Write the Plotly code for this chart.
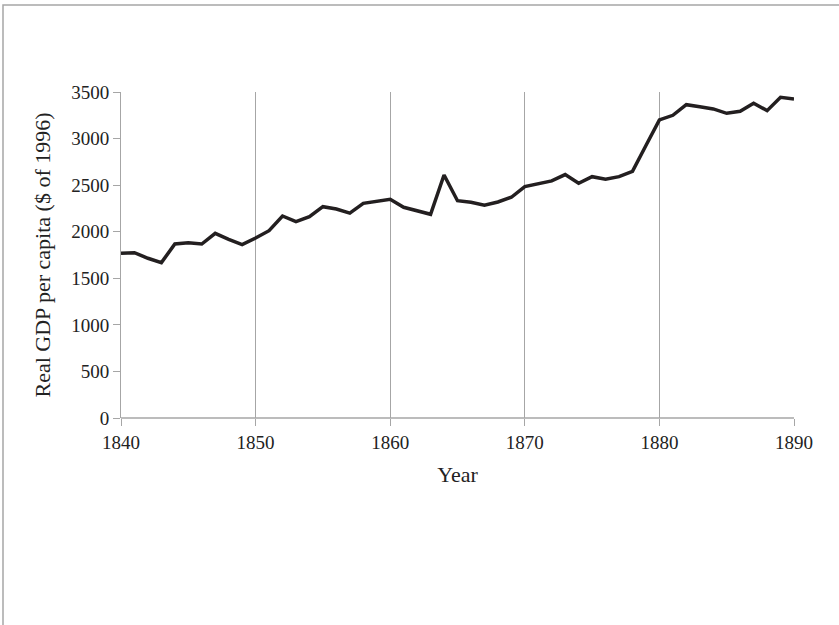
import plotly.graph_objects as go

years = list(range(1840, 1891))
gdp = [1768, 1775, 1715, 1668, 1868, 1882, 1868, 1983, 1918, 1861,
       1933, 2011, 2169, 2108, 2162, 2269, 2244, 2200, 2305, 2326,
       2348, 2262, 2226, 2187, 2609, 2333, 2316, 2284, 2319, 2370,
       2484, 2512, 2545, 2613, 2520, 2591, 2563, 2591, 2648, 2925,
       3200, 3250, 3364, 3342, 3318, 3271, 3293, 3379, 3300, 3443,
       3425]
x_ticks = [1840, 1850, 1860, 1870, 1880, 1890]
y_ticks = [0, 500, 1000, 1500, 2000, 2500, 3000, 3500]

FONT = "Liberation Serif"
W, H = 839, 625
L, R, T, B = 121, 45, 92, 207
pw, ph = W - L - R, H - T - B

fig = go.Figure()
fig.add_trace(go.Scatter(x=years, y=gdp, mode="lines",
                         line=dict(color="#231F20", width=3.5),
                         showlegend=False))

fig.update_layout(
    width=W, height=H,
    margin=dict(l=L, r=R, t=T, b=B),
    paper_bgcolor="white", plot_bgcolor="white",
    font=dict(family=FONT, size=19, color="#222222"),
    xaxis=dict(range=[1840, 1890], tickvals=x_ticks, showgrid=True,
               gridcolor="#A6A6A6", gridwidth=1, showline=False,
               zeroline=False, ticks="outside", ticklen=7, tickcolor="#A6A6A6",
               title=dict(text="Year", standoff=14, font=dict(size=22))),
    yaxis=dict(range=[0, 3500], tickvals=y_ticks, showgrid=False,
               showline=True, linecolor="#A6A6A6", linewidth=1,
               zeroline=False, ticks="outside", ticklen=7, tickcolor="#A6A6A6",
               title=dict(text="Real GDP per capita ($ of 1996)", standoff=14,
                          font=dict(size=22))),
)

# x-axis baseline at 0
fig.add_shape(type="line", xref="paper", yref="paper", x0=0, x1=1, y0=0, y1=0,
              line=dict(color="#A6A6A6", width=1.5))
# outer border (only left and top visible in the crop)
fig.add_shape(type="rect", xref="paper", yref="paper",
              x0=(3 - L) / pw, x1=(W + 20 - L) / pw,
              y0=-(B + 20) / ph, y1=(H - B - 5) / ph,
              line=dict(color="#A6A6A6", width=1.5), layer="below")

fig.write_html("out.html", config={"displayModeBar": False},
               post_script="document.body.style.margin='0px';document.body.style.padding='0px';")
